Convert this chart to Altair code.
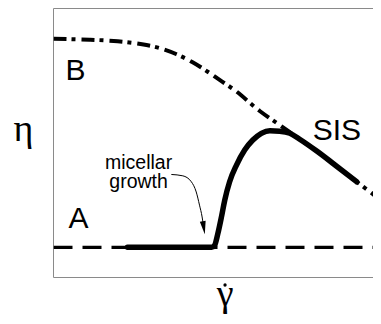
import altair as alt
import pandas as pd

# ---- data (arbitrary schematic units, x: shear rate, y: viscosity) ----
X_DOMAIN = [0, 97.6]
Y_DOMAIN = [0, 100]

# curve B (dash-dot)
b_x = [0, 5.8, 11.0, 19.6, 28.4, 32.4, 37.6, 42.5, 47.1, 51.4, 55.4, 63.0, 69.1, 75.2, 80.3, 85.4, 92.6, 96.0, 100]
b_y = [88.8, 88.6, 88.4, 87.8, 86.4, 85.3, 83.0, 80.0, 76.5, 72.9, 69.6, 61.9, 56.7, 51.4, 47.1, 42.4, 35.6, 32.5, 28.7]

# curve A (dashed, constant)
a_x = [0, 100]
a_y = [11.2, 11.2]

# SIS curve (solid)
s_x = [22.6, 48.3, 49.2, 50.2, 51.3, 52.3, 53.8, 55.9, 58.4, 60.9, 63.5, 66.1, 69.1, 72.2, 75.2, 80.3, 85.4, 92.6]
s_y = [11.2, 11.2, 11.9, 16.3, 22.5, 28.7, 35.6, 41.8, 47.4, 51.1, 53.6, 54.6, 54.4, 53.6, 51.4, 47.1, 42.4, 35.6]

# annotation arrow
arr_x = [36.0, 39.5, 42.1, 43.6, 44.6, 45.4, 45.7]
arr_y = [38.3, 37.8, 35.6, 31.8, 26.9, 22.5, 20.1]
head_x = [45.9]
head_y = [18.5]

# labels
lab_sans = ["B", "A", "SIS"]
lab_sans_x = [3.7, 4.6, 79.2]
lab_sans_y = [73.5, 18.3, 51.1]

note_lines = ["micellar", "growth"]
note_x = [26.0, 26.0]
note_y = [40.3, 33.3]

lab_serif = ["\u03b7", "\u03b3"]
lab_serif_x = [-9.2, 52.4]
lab_serif_y = [50.6, -10.6]

# the "dot" over gamma (time derivative)
gdot_x = [52.4]
gdot_y = [-2.8]

# ---- chart ----
xs = alt.Scale(domain=X_DOMAIN, nice=False, zero=False)
ys = alt.Scale(domain=Y_DOMAIN, nice=False, zero=False)

def X(f="x"):
    return alt.X(f"{f}:Q", scale=xs, axis=None)

def Y(f="y"):
    return alt.Y(f"{f}:Q", scale=ys, axis=None)

frame = pd.DataFrame({
    "x": [X_DOMAIN[0], X_DOMAIN[0], X_DOMAIN[0]],
    "x2": [X_DOMAIN[0], X_DOMAIN[1], X_DOMAIN[1]],
    "y": [Y_DOMAIN[0], Y_DOMAIN[1], Y_DOMAIN[0]],
    "y2": [Y_DOMAIN[1], Y_DOMAIN[1], Y_DOMAIN[0]],
})
frame_layer = alt.Chart(frame).mark_rule(color="#8a8a8a", strokeWidth=1).encode(
    x=X(), x2="x2:Q", y=Y(), y2="y2:Q")

b_layer = alt.Chart(pd.DataFrame({"x": b_x, "y": b_y})).mark_line(
    color="black", strokeWidth=4, strokeDash=[13, 5, 4, 6], interpolate="monotone", clip=True
).encode(x=X(), y=Y())

a_layer = alt.Chart(pd.DataFrame({"x": a_x, "y": a_y})).mark_line(
    color="black", strokeWidth=3.3, strokeDash=[19, 10], clip=True
).encode(x=X(), y=Y())

s_layer = alt.Chart(pd.DataFrame({"x": s_x, "y": s_y})).mark_line(
    color="black", strokeWidth=5.5, strokeCap="round", strokeJoin="round", interpolate="monotone"
).encode(x=X(), y=Y())

arr_layer = alt.Chart(pd.DataFrame({"x": arr_x, "y": arr_y})).mark_line(
    color="black", strokeWidth=1, interpolate="monotone"
).encode(x=X(), y=Y())

head_layer = alt.Chart(pd.DataFrame({"x": head_x, "y": head_y})).mark_point(
    shape="M-0.45,-1 L0.45,-1 L0,1 Z", filled=True, color="black", opacity=1,
    size=169, angle=351
).encode(x=X(), y=Y())

sans_layer = alt.Chart(pd.DataFrame({"x": lab_sans_x, "y": lab_sans_y, "t": lab_sans})).mark_text(
    font="Liberation Sans", fontSize=30, align="left", baseline="alphabetic", color="black"
).encode(x=X(), y=Y(), text="t:N")

note_layer = alt.Chart(pd.DataFrame({"x": note_x, "y": note_y, "t": note_lines})).mark_text(
    font="Liberation Sans", fontSize=19.5, align="center", baseline="alphabetic", color="black"
).encode(x=X(), y=Y(), text="t:N")

serif_layer = alt.Chart(pd.DataFrame({"x": lab_serif_x, "y": lab_serif_y, "t": lab_serif})).mark_text(
    font="Liberation Serif", fontSize=38, align="center", baseline="alphabetic", color="black"
).encode(x=X(), y=Y(), text="t:N")

gdot_layer = alt.Chart(pd.DataFrame({"x": gdot_x, "y": gdot_y})).mark_point(
    shape="circle", filled=True, color="black", opacity=1, size=11
).encode(x=X(), y=Y())

chart = alt.layer(
    frame_layer, b_layer, a_layer, s_layer, arr_layer, head_layer,
    sans_layer, note_layer, serif_layer, gdot_layer
).properties(
    width=319.5, height=269,
    padding={"left": 45.5, "top": 0.5, "right": 0, "bottom": 38.5},
    autosize=alt.AutoSizeParams(type="none"),
).configure_view(stroke=None)

chart.save("out.html", embed_options={"renderer": "svg", "actions": False})
